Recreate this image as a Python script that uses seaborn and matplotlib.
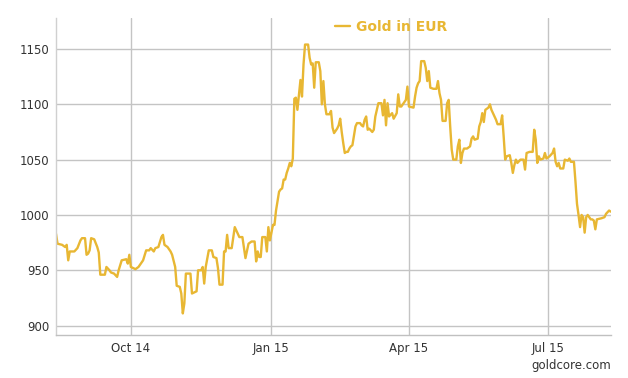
import matplotlib
matplotlib.use("Agg")
import matplotlib.pyplot as plt
import seaborn as sns
import pandas as pd

dates = [
    "2014-08-13", "2014-08-14", "2014-08-17", "2014-08-19", "2014-08-20", "2014-08-21", "2014-08-22",
    "2014-08-25", "2014-08-27", "2014-08-29", "2014-08-30", "2014-09-01", "2014-09-02", "2014-09-03",
    "2014-09-04", "2014-09-05", "2014-09-07", "2014-09-09", "2014-09-10", "2014-09-11", "2014-09-14",
    "2014-09-15", "2014-09-17", "2014-09-18", "2014-09-20", "2014-09-22", "2014-09-23", "2014-09-25",
    "2014-09-28", "2014-09-29", "2014-09-30", "2014-10-01", "2014-10-04", "2014-10-06", "2014-10-09",
    "2014-10-11", "2014-10-13", "2014-10-14", "2014-10-16", "2014-10-17", "2014-10-19", "2014-10-21",
    "2014-10-22", "2014-10-23", "2014-10-25", "2014-10-27", "2014-10-28", "2014-10-30", "2014-10-31",
    "2014-11-02", "2014-11-03", "2014-11-04", "2014-11-05", "2014-11-06", "2014-11-09", "2014-11-10",
    "2014-11-13", "2014-11-14", "2014-11-16", "2014-11-17", "2014-11-18", "2014-11-19", "2014-11-21",
    "2014-11-23", "2014-11-24", "2014-11-26", "2014-11-27", "2014-11-28", "2014-11-30", "2014-12-01",
    "2014-12-02", "2014-12-03", "2014-12-04", "2014-12-06", "2014-12-08", "2014-12-09", "2014-12-11",
    "2014-12-13", "2014-12-15", "2014-12-17", "2014-12-19", "2014-12-21", "2014-12-22", "2014-12-23",
    "2014-12-24", "2014-12-25", "2014-12-26", "2014-12-28", "2014-12-29", "2014-12-30", "2014-12-31",
    "2015-01-02", "2015-01-03", "2015-01-04", "2015-01-06", "2015-01-07", "2015-01-08", "2015-01-09",
    "2015-01-10", "2015-01-11", "2015-01-12", "2015-01-13", "2015-01-14", "2015-01-15", "2015-01-16",
    "2015-01-17", "2015-01-18", "2015-01-19", "2015-01-20", "2015-01-21", "2015-01-22", "2015-01-23",
    "2015-01-25", "2015-01-26", "2015-01-27", "2015-01-28", "2015-01-29", "2015-01-30", "2015-02-01",
    "2015-02-02", "2015-02-03", "2015-02-04", "2015-02-05", "2015-02-06", "2015-02-08", "2015-02-09",
    "2015-02-10", "2015-02-11", "2015-02-13", "2015-02-14", "2015-02-15", "2015-02-16", "2015-02-17",
    "2015-02-18", "2015-02-19", "2015-02-20", "2015-02-21", "2015-02-22", "2015-02-23", "2015-02-25",
    "2015-02-26", "2015-02-28", "2015-03-01", "2015-03-02", "2015-03-03", "2015-03-04", "2015-03-05",
    "2015-03-06", "2015-03-08", "2015-03-09", "2015-03-10", "2015-03-11", "2015-03-12", "2015-03-14",
    "2015-03-15", "2015-03-16", "2015-03-17", "2015-03-18", "2015-03-19", "2015-03-21", "2015-03-22",
    "2015-03-24", "2015-03-25", "2015-03-26", "2015-03-27", "2015-03-28", "2015-03-30", "2015-03-31",
    "2015-04-01", "2015-04-04", "2015-04-05", "2015-04-06", "2015-04-07", "2015-04-08", "2015-04-09",
    "2015-04-11", "2015-04-12", "2015-04-13", "2015-04-14", "2015-04-15", "2015-04-17", "2015-04-19",
    "2015-04-20", "2015-04-21", "2015-04-22", "2015-04-23", "2015-04-25", "2015-04-26", "2015-04-27",
    "2015-04-28", "2015-04-29", "2015-04-30", "2015-05-02", "2015-05-03", "2015-05-04", "2015-05-05",
    "2015-05-06", "2015-05-07", "2015-05-09", "2015-05-11", "2015-05-12", "2015-05-13", "2015-05-14",
    "2015-05-16", "2015-05-17", "2015-05-18", "2015-05-19", "2015-05-20", "2015-05-21", "2015-05-23",
    "2015-05-24", "2015-05-25", "2015-05-26", "2015-05-28", "2015-05-29", "2015-05-31", "2015-06-01",
    "2015-06-02", "2015-06-03", "2015-06-04", "2015-06-06", "2015-06-07", "2015-06-08", "2015-06-09",
    "2015-06-10", "2015-06-11", "2015-06-13", "2015-06-15", "2015-06-16", "2015-06-17", "2015-06-19",
    "2015-06-21", "2015-06-22", "2015-06-23", "2015-06-24", "2015-06-25", "2015-06-26", "2015-06-28",
    "2015-06-29", "2015-06-30", "2015-07-02", "2015-07-04", "2015-07-05", "2015-07-06", "2015-07-07",
    "2015-07-08", "2015-07-09", "2015-07-11", "2015-07-12", "2015-07-14", "2015-07-15", "2015-07-16",
    "2015-07-18", "2015-07-19", "2015-07-20", "2015-07-21", "2015-07-22", "2015-07-23", "2015-07-24",
    "2015-07-25", "2015-07-26", "2015-07-27", "2015-07-29", "2015-07-30", "2015-07-31", "2015-08-01",
    "2015-08-02", "2015-08-05", "2015-08-07", "2015-08-08", "2015-08-10", "2015-08-11",
]

gold_eur = [
    983, 974, 973, 971, 973, 959, 967,
    967, 970, 977, 979, 979, 964, 965,
    968, 979, 978, 971, 966, 946, 946,
    953, 950, 948, 947, 944, 950, 959,
    960, 956, 964, 953, 951, 953, 959,
    968, 968, 970, 967, 970, 971, 980,
    982, 973, 971, 967, 964, 953, 936,
    935, 929, 911, 920, 947, 947, 929,
    931, 950, 950, 953, 938, 953, 968,
    968, 962, 961, 952, 937, 937, 967,
    967, 982, 970, 970, 989, 986, 980,
    980, 961, 974, 976, 976, 958, 967,
    962, 962, 980, 980, 967, 989, 977,
    991, 991, 1004, 1021, 1023, 1024, 1032,
    1032, 1038, 1042, 1047, 1044, 1051, 1105,
    1106, 1095, 1109, 1122, 1107, 1136, 1154,
    1154, 1142, 1136, 1137, 1115, 1138, 1138,
    1130, 1100, 1121, 1100, 1091, 1091, 1094,
    1079, 1074, 1078, 1081, 1087, 1075, 1065,
    1056, 1057, 1057, 1060, 1062, 1063, 1080,
    1083, 1083, 1081, 1080, 1086, 1089, 1077,
    1078, 1075, 1077, 1089, 1095, 1101, 1101,
    1090, 1104, 1081, 1101, 1089, 1092, 1087,
    1092, 1109, 1098, 1098, 1100, 1104, 1116,
    1098, 1097, 1107, 1115, 1119, 1121, 1139,
    1139, 1133, 1121, 1130, 1115, 1114, 1114,
    1121, 1110, 1104, 1085, 1085, 1101, 1104,
    1080, 1059, 1050, 1050, 1062, 1068, 1047,
    1056, 1060, 1060, 1062, 1069, 1071, 1068,
    1069, 1080, 1084, 1092, 1084, 1095, 1097,
    1100, 1095, 1092, 1086, 1082, 1082, 1090,
    1071, 1050, 1053, 1054, 1047, 1038, 1045,
    1050, 1047, 1050, 1050, 1041, 1056, 1057,
    1057, 1077, 1068, 1047, 1053, 1050, 1051,
    1056, 1051, 1053, 1056, 1060, 1048, 1044,
    1047, 1042, 1042, 1050, 1049, 1051, 1048,
    1048, 1030, 1010, 1000, 989, 1000, 998,
    984, 998, 1000, 996, 996, 995, 987,
    996, 997, 998, 1001, 1004, 1003,
]

tick_dates = ["2014-10-01", "2015-01-01", "2015-04-01", "2015-07-01"]
tick_labels = ["Oct 14", "Jan 15", "Apr 15", "Jul 15"]
y_ticks = [900, 950, 1000, 1050, 1100, 1150]
series_name = "Gold in EUR"

df = pd.DataFrame({"date": pd.to_datetime(dates), "value": gold_eur})

sns.set_theme(style="white")
plt.rcParams["font.family"] = ["DejaVu Sans"]

GOLD = "#E8B733"
GRID = "#C4C4C4"

fig = plt.figure(figsize=(6.28, 3.78), dpi=100)
ax = fig.add_axes([56 / 628, 1 - 335 / 378, (611 - 56) / 628, (335 - 18) / 378])

sns.lineplot(data=df, x="date", y="value", ax=ax, color=GOLD, linewidth=1.7,
             label=series_name, legend=False)

ax.set_xlim(pd.Timestamp("2014-08-13"), pd.Timestamp("2015-08-11 06:00"))
ax.set_ylim(891.5, 1178)

ax.set_xticks(pd.to_datetime(tick_dates))
ax.set_xticklabels(tick_labels)
ax.set_yticks(y_ticks)
ax.set_yticklabels([str(v) for v in y_ticks])

ax.grid(True, axis="both", color=GRID, linewidth=1.0)
ax.set_axisbelow(True)
ax.set_xlabel("")
ax.set_ylabel("")

for s in ["top", "right"]:
    ax.spines[s].set_visible(False)
ax.spines["left"].set_color("#D0D0D0")
ax.spines["left"].set_linewidth(1.0)
ax.spines["bottom"].set_color("#C0C0C0")
ax.spines["bottom"].set_linewidth(1.0)

ax.tick_params(axis="both", length=0, labelsize=8.5, labelcolor="#333333")
ax.tick_params(axis="x", pad=5)
ax.tick_params(axis="y", pad=5)

leg = ax.legend(loc="center", bbox_to_anchor=(391 / 628, 1 - 27 / 378),
                bbox_transform=fig.transFigure, frameon=False, handlelength=1.1,
                handletextpad=0.4, borderaxespad=0, borderpad=0,
                prop={"weight": "bold", "size": 10})
for t in leg.get_texts():
    t.set_color(GOLD)

fig.text(611 / 628, 1 - 366 / 378, "goldcore.com", ha="right", va="center",
         fontsize=8.5, color="#333333")

fig.savefig("out.png", dpi=100)
